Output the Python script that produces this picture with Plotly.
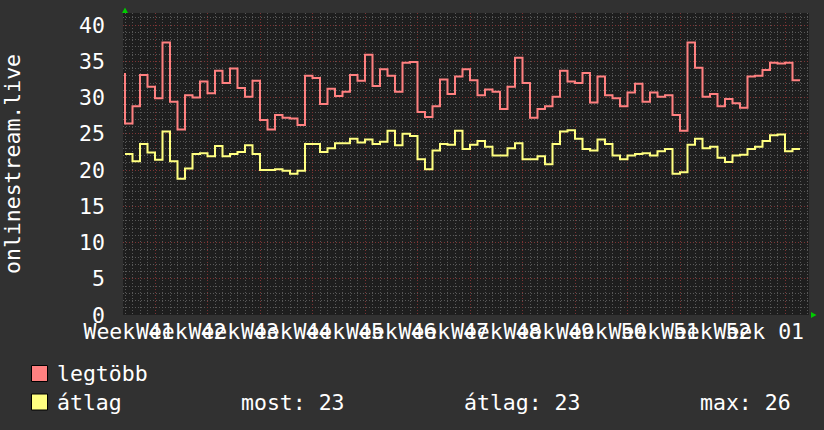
import pandas as pd
import plotly.graph_objects as go

# ---------------- data ----------------
series_start = "2023-10-12"   # timestamp of first sample (daily samples, value covers preceding day)
legtobb = [33.4, 26.4, 28.8, 33.1, 31.5, 29.9, 37.6, 29.4, 25.6, 30.3,
           30.0, 32.2, 30.6, 33.7, 32.0, 34.0, 31.3, 30.1, 32.3, 26.9,
           25.6, 27.6, 27.2, 27.1, 26.2, 33.0, 32.7, 29.1, 31.2, 30.2,
           30.8, 33.1, 32.3, 35.9, 31.6, 33.9, 33.0, 30.8, 34.8, 34.9,
           28.0, 27.3, 28.8, 32.5, 30.5, 32.9, 33.9, 32.4, 30.3, 31.1,
           30.8, 28.4, 31.5, 35.5, 32.0, 27.2, 28.4, 28.8, 30.1, 33.7,
           32.2, 32.0, 33.4, 29.3, 32.9, 30.3, 29.9, 28.8, 30.7, 31.9,
           29.4, 30.7, 30.1, 30.3, 27.6, 25.4, 37.6, 34.1, 30.1, 30.5,
           28.8, 29.8, 29.2, 28.6, 32.9, 33.0, 33.8, 34.8, 34.7, 34.8,
           32.4]
atlag = [22.2, 22.2, 21.2, 23.6, 22.4, 21.4, 25.3, 21.2, 18.8, 20.2,
         22.2, 22.3, 21.9, 23.3, 21.9, 22.2, 22.5, 23.4, 22.2, 20.0,
         20.0, 20.1, 19.9, 19.5, 19.9, 23.6, 23.6, 22.5, 23.0, 23.7,
         23.7, 24.3, 23.8, 24.2, 23.6, 23.9, 25.4, 23.4, 25.0, 24.7,
         21.5, 20.1, 22.7, 23.6, 23.5, 25.4, 22.9, 23.5, 24.0, 23.2,
         22.0, 22.0, 23.0, 23.7, 21.5, 21.5, 21.9, 20.8, 23.6, 25.3,
         25.5, 24.3, 22.9, 22.7, 24.2, 23.6, 22.0, 21.5, 22.0, 22.2,
         22.3, 22.0, 22.6, 22.9, 19.5, 19.7, 23.5, 24.3, 23.0, 23.2,
         21.7, 21.1, 22.0, 22.1, 22.9, 23.2, 24.0, 24.8, 24.9, 22.6,
         22.9]
week_labels = ["Week 41", "Week 42", "Week 43", "Week 44", "Week 45", "Week 46",
               "Week 47", "Week 48", "Week 49", "Week 50", "Week 51", "Week 52",
               "Week 01"]
week_label_positions = pd.date_range("2023-10-12 12:00", periods=len(week_labels), freq="7D")
y_ticks = [0, 5, 10, 15, 20, 25, 30, 35, 40]
legend_names = ["legtöbb", "átlag"]
legend_stats = ["most: 23", "átlag: 23", "max: 26"]
y_title = "onlinestream.live"

# ---------------- style ----------------
RED = "#ff8080"
YELLOW = "#ffff80"
PAPER = "#313131"
PLOT = "#1e1e1e"
FONT = "DejaVu Sans Mono"
FS = 21.5

W, H = 824, 430
L, R, T, B = 123, 15, 13, 115
PW, PH = W - L - R, H - T - B


def px(xp):
    return (xp - L) / PW


def py(yp):
    return (H - B - yp) / PH


x = pd.date_range(series_start, periods=len(legtobb), freq="D")
day0 = pd.Timestamp("2023-10-16")
x_range = [day0 - pd.Timedelta(days=32 / 7.5), day0 + pd.Timedelta(days=654 / 7.5)]

fig = go.Figure()
fig.add_trace(go.Scatter(x=x, y=legtobb, mode="lines", line=dict(color=RED, width=2, shape="vh"),
                         name=legend_names[0], showlegend=False, xaxis="x"))
fig.add_trace(go.Scatter(x=x, y=atlag, mode="lines", line=dict(color=YELLOW, width=2, shape="vh"),
                         name=legend_names[1], showlegend=False, xaxis="x2"))

grid_minor = "#585858"
grid_major = "#7c3434"

fig.update_layout(
    width=W, height=H,
    margin=dict(l=L, r=R, t=T, b=B, pad=0),
    paper_bgcolor=PAPER, plot_bgcolor=PLOT,
    font=dict(family=FONT, size=FS, color="#ffffff"),
    showlegend=False,
    xaxis=dict(
        type="date", range=x_range,
        tickmode="linear", tick0="2023-10-16", dtick=7 * 86400000,
        showticklabels=False, ticks="",
        showgrid=True, gridcolor=grid_major, griddash="1px,2px", gridwidth=1,
        minor=dict(dtick=86400000, tick0="2023-10-16", showgrid=True,
                   gridcolor=grid_minor, griddash="1px,2px", gridwidth=1),
        zeroline=False, showline=False, fixedrange=True,
    ),
    xaxis2=dict(
        type="date", range=x_range, overlaying="x", anchor="y", side="bottom",
        tickmode="array", tickvals=list(week_label_positions), ticktext=week_labels,
        tickangle=0, ticks="", showgrid=False, zeroline=False, showline=False,
        ticklabelstandoff=1,
        tickfont=dict(family=FONT, size=FS, color="#ffffff"),
    ),
    yaxis=dict(
        range=[0, 41.66], tickmode="array", tickvals=y_ticks,
        ticks="", ticklabelstandoff=17,
        showgrid=True, gridcolor=grid_major, griddash="1px,2px", gridwidth=1,
        minor=dict(dtick=1, showgrid=True, gridcolor=grid_minor, griddash="1px,2px", gridwidth=1),
        zeroline=False, showline=False,
        tickfont=dict(family=FONT, size=FS, color="#ffffff"),
    ),
)

# y-axis title
fig.add_annotation(text=y_title, textangle=-90, xref="paper", yref="paper",
                   x=px(12), y=py(164), xanchor="center", yanchor="middle",
                   showarrow=False, font=dict(family=FONT, size=FS, color="#ffffff"))

# green axis arrows
fig.add_shape(type="path", xref="paper", yref="paper",
              path=f"M {px(122)},{py(13)} L {px(128)},{py(13)} L {px(125)},{py(7.5)} Z",
              fillcolor="#00cc00", line=dict(width=0))
fig.add_shape(type="path", xref="paper", yref="paper",
              path=f"M {px(811)},{py(312)} L {px(811)},{py(318)} L {px(816.5)},{py(315)} Z",
              fillcolor="#00cc00", line=dict(width=0))

# legend
for i, (name, col) in enumerate(zip(legend_names, [RED, YELLOW])):
    yc = 373.5 + 28.5 * i
    fig.add_shape(type="rect", xref="paper", yref="paper",
                  x0=px(31.5), x1=px(47.5), y0=py(yc - 8), y1=py(yc + 8),
                  fillcolor=col, line=dict(color="#000000", width=1))
    fig.add_annotation(text=name, xref="paper", yref="paper", x=px(55), y=py(yc),
                       xanchor="left", yanchor="middle", showarrow=False,
                       font=dict(family=FONT, size=FS, color="#ffffff"))
for txt, xp in zip(legend_stats, [239, 462, 698]):
    fig.add_annotation(text=txt, xref="paper", yref="paper", x=px(xp), y=py(402),
                       xanchor="left", yanchor="middle", showarrow=False,
                       font=dict(family=FONT, size=FS, color="#ffffff"))

fig.write_html(
    "out.html",
    config={"displayModeBar": False, "staticPlot": True},
    post_script=f"document.body.style.margin='0';document.body.style.background='{PAPER}';",
)
